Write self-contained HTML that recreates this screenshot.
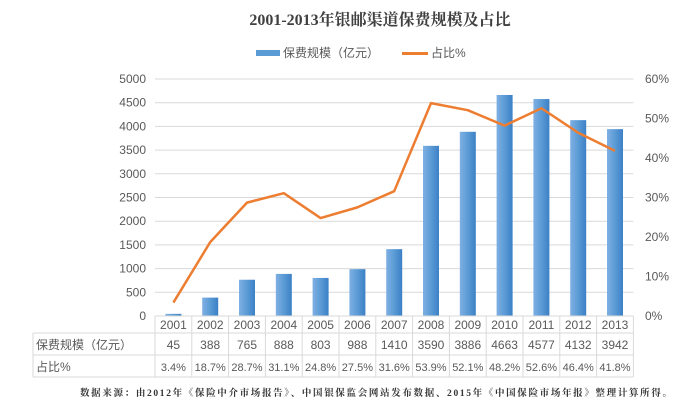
<!DOCTYPE html>
<html><head><meta charset="utf-8"><style>
body{margin:0;background:#fff;}
svg text{font-family:"Liberation Sans","Noto Sans CJK SC",sans-serif;}
</style></head><body>
<svg id="c" width="700" height="408" xmlns="http://www.w3.org/2000/svg">
<defs><linearGradient id="g" x1="0" x2="1"><stop offset="0" stop-color="#7FB0E3"/><stop offset="0.5" stop-color="#5B9BD5"/><stop offset="1" stop-color="#3C80C6"/></linearGradient></defs>
<text x="380" y="25" text-anchor="middle" font-size="16" font-weight="bold" fill="#404040" style="font-family:'Liberation Serif','Noto Serif CJK SC',serif">2001-2013年银邮渠道保费规模及占比</text>
<g>
<rect x="256" y="50" width="24" height="6" fill="#5B9BD5"/>
<text x="283" y="57" font-size="12" fill="#595959">保费规模（亿元）</text>
<rect x="402" y="52" width="26" height="3" fill="#ED7D31"/>
<text x="431" y="57" font-size="12" fill="#595959">占比%</text>
</g>
<g id="grid"></g><g id="bars"></g><g id="line"></g><g id="table"></g>
<text x="376" y="396" text-anchor="middle" textLength="592" lengthAdjust="spacing" font-size="9.5" font-weight="bold" fill="#333" style="font-family:'Liberation Serif','Noto Serif CJK SC',serif">数据来源：由2012年《保险中介市场报告》、中国银保监会网站发布数据、2015年《中国保险市场年报》整理计算所得。</text>
</svg>
<script>
const years=['2001','2002','2003','2004','2005','2006','2007','2008','2009','2010','2011','2012','2013'];
const premium=[45,388,765,888,803,988,1410,3590,3886,4663,4577,4132,3942];
const share=[3.4,18.7,28.7,31.1,24.8,27.5,31.6,53.9,52.1,48.2,52.6,46.4,41.8];
const leftTicks=[0,500,1000,1500,2000,2500,3000,3500,4000,4500,5000];
const rightTicks=[0,10,20,30,40,50,60];
const NS='http://www.w3.org/2000/svg';
const x0=155,cw=36.8,yB=316,yT=79;
const yL=v=>yB-(v/5000)*(yB-yT);
const yR=v=>yB-(v/60)*(yB-yT);
const xc=i=>x0+cw*i+cw/2;
function mk(p,t,a,txt){const e=document.createElementNS(NS,t);for(const k in a)e.setAttribute(k,a[k]);if(txt!==undefined)e.textContent=txt;document.getElementById(p).appendChild(e);return e;}
leftTicks.forEach(v=>{
 if(v>0){const l=mk('grid','line',{x1:x0,x2:x0+cw*13,y1:yL(v),y2:yL(v),stroke:'#D9D9D9','stroke-width':1});
 
 }
 const t=mk('grid','text',{x:146,y:yL(v)+4,'text-anchor':'end','font-size':12,fill:'#595959'},v);
 
 
});
rightTicks.forEach(v=>{
 const t=mk('grid','text',{x:645,y:yR(v)+4,'font-size':12,fill:'#595959'},v+'%');
 
 
});
premium.forEach((v,i)=>{
 const r=mk('bars','rect',{x:xc(i)-8,y:yL(v),width:16,height:yB-yL(v),fill:'url(#g)'});
 
 
});
const pl=mk('line','polyline',{points:share.map((v,i)=>xc(i)+','+yR(v)).join(' '),fill:'none',stroke:'#ED7D31','stroke-width':2.5,'stroke-linejoin':'round'});


const tl=33,tr=x0+cw*13;
[[x0,316],[tl,333],[tl,355],[tl,377]].forEach(([a,y])=>{const l=mk('table','line',{x1:a,x2:tr,y1:y,y2:y,stroke:'#D9D9D9'});
 
 });
for(let i=0;i<=13;i++){const l=mk('table','line',{x1:x0+cw*i,x2:x0+cw*i,y1:316,y2:377,stroke:'#D9D9D9'});
 
 }
const lv=mk('table','line',{x1:tl,x2:tl,y1:333,y2:377,stroke:'#D9D9D9'});


const h1=mk('table','text',{x:36,y:349,'font-size':12,fill:'#595959'},'保费规模（亿元）');


const h2=mk('table','text',{x:36,y:371,'font-size':12,fill:'#595959'},'占比%');


years.forEach((y,i)=>{
 const a=mk('table','text',{x:xc(i),y:329,'text-anchor':'middle','font-size':12,fill:'#595959'},y);
 
 
 const b=mk('table','text',{x:xc(i),y:349,'text-anchor':'middle','font-size':12,fill:'#595959'},premium[i]);
 
 
 const c=mk('table','text',{x:xc(i),y:371,'text-anchor':'middle','font-size':11,fill:'#595959'},share[i].toFixed(1)+'%');
 
 
});
</script>
</body></html>
